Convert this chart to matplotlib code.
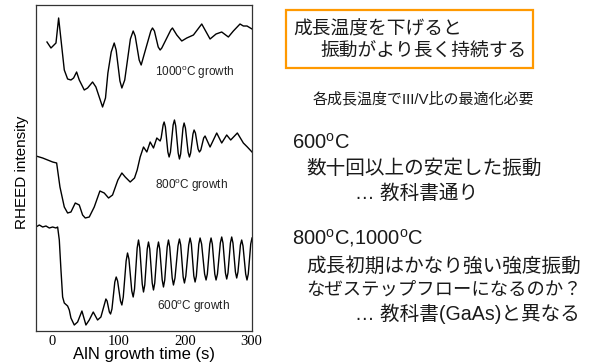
import matplotlib
matplotlib.use("Agg")
import matplotlib.pyplot as plt
from matplotlib.patches import Rectangle

plt.rcParams["font.family"] = ["Liberation Sans", "Noto Sans CJK JP"]
plt.rcParams["mathtext.fontset"] = "custom"
plt.rcParams["mathtext.rm"] = "Liberation Sans"
plt.rcParams["mathtext.it"] = "Liberation Sans:italic"
plt.rcParams["mathtext.bf"] = "Liberation Sans:bold"

# RHEED intensity traces (time in s, intensity in arbitrary units, offset per trace)
t_1000 = [-7.5, -1.5, 6, 10, 18.5, 23.5, 28.5, 32.5, 37, 41, 48.5, 53.5, 61, 66, 71, 76,
          80.4, 84, 89, 93.5, 96.4, 102.1, 105, 109.3, 117.8, 122, 125, 131, 134, 142.5,
          148.5, 151, 153.9, 159.6, 162.5, 165, 172.5, 178.5, 181, 187.5, 195, 202.5,
          212.5, 225, 237.5, 246.5, 255, 265, 272.5, 282.5, 287.5, 293, 300.5]
i_1000 = [289, 283, 288, 313, 261, 252, 251, 253, 259, 251, 241, 243, 249, 244, 234, 224,
          233, 258, 279, 288, 281, 250, 243, 251, 292, 300, 295, 271, 266, 286,
          300, 303, 300, 284, 281, 283, 293, 301, 303, 296, 290, 293,
          296, 307, 292, 297, 299, 294, 300, 307, 305, 305, 302]

t_800 = [-24, -14, -6.5, 1, 7, 12, 18.5, 23.5, 28.5, 35, 41, 46, 50, 56, 63.5, 72,
         78.5, 85, 91, 99, 105, 110, 117.5, 124, 128, 132.5, 137.5, 142.5, 147.5,
         152.5, 157.5, 162.5, 164, 167, 168.5, 170.4, 174.1, 176, 178, 182, 184,
         185.9, 189.6, 191.5, 193.3, 196.8, 198.5, 200.5, 204.5, 206.5, 208.3, 211.8,
         213.5, 215.5, 219.5, 221.5, 223.6, 227.9, 230, 237.5, 247.5, 255, 262.5,
         268.5, 278.5, 287.5, 293.5, 300.5]
i_800 = [175, 173, 171, 169, 168, 144, 124, 118, 119, 128, 126, 116, 113, 114, 124, 140,
         138, 133, 136, 151, 158, 154, 149, 153, 161, 174, 184, 179, 189,
         183, 193, 190, 193, 206, 209, 204, 179, 174, 179, 206, 211,
         205, 178, 172, 177, 203, 208, 203, 179, 174, 178, 197,
         201, 198, 182, 179, 181, 193, 195, 184, 198, 188, 196,
         191, 198, 188, 184, 179]

t_600 = [-24, -19, -14, -9, -4, 1, 6, 8.5, 11, 13.5, 16, 18.5, 23.5, 26, 28.5, 33.5,
         38.5, 45, 51, 56, 62, 68.5, 73.5, 81, 82.8, 86.2, 88, 90.1, 94.4, 96.5,
         98.6, 102.9, 105, 107.1, 111.4, 113.5, 115.6, 119.9, 122, 124, 128, 130,
         131.9, 135.6, 137.5, 139.4, 143.1, 145, 146.9, 150.6, 152.5, 154.4, 158.1,
         160, 161.9, 165.6, 167.5, 169.4, 173.1, 175, 176.9, 180.6, 182.5, 184.8,
         189.3, 191.5, 193.4, 197.1, 199, 201.1, 205.4, 207.5, 209.4, 213.1, 215,
         216.9, 220.6, 222.5, 224.8, 229.3, 231.5, 233.4, 237.1, 239, 240.9, 244.6,
         246.5, 248.6, 252.9, 255, 256.9, 260.6, 262.5, 264.4, 268.1, 270, 271.9,
         275.6, 277.5, 279.4, 283.1, 285, 287, 291, 293, 294.9, 298.6, 300.5]
i_600 = [104, 106, 104, 105, 103, 104, 103, 104, 91, 61, 34, 28, 25, 21, 13, 6,
         9, 20, 6, 11, 19, 11, 14, 32, 30, 19, 17, 22, 49, 54,
         50, 30, 26, 34, 70, 78, 72, 40, 34, 42, 83, 91,
         83, 47, 39, 46, 82, 89, 82, 48, 41, 48, 82,
         89, 82, 51, 44, 51, 84, 91, 84, 53, 46, 53,
         85, 92, 86, 54, 48, 55, 86, 93, 87, 55, 49,
         55, 87, 93, 87, 57, 51, 57, 87, 93, 87, 57,
         51, 57, 88, 94, 88, 58, 52, 58, 88, 94, 88,
         59, 53, 59, 86, 91, 85, 57, 51, 57, 87, 93]

traces = [(t_1000, i_1000, "1000$^{\\rm o}$C growth", 215, 258),
          (t_800, i_800, "800$^{\\rm o}$C growth", 210, 145),
          (t_600, i_600, "600$^{\\rm o}$C growth", 212, 24)]

x_ticks = [0, 100, 200, 300]

fig = plt.figure(figsize=(6.02, 3.64), dpi=100)
ax = fig.add_axes([36 / 602, 1 - 331 / 364, 216 / 602, 326 / 364])

for t, inten, label, lx, ly in traces:
    ax.plot(t, inten, color="black", lw=1.0, solid_joinstyle="round")
    ax.text(lx, ly, label, fontsize=8.5, ha="center", va="center", color="#222222")

ax.set_xlim(-24, 300.5)
ax.set_ylim(0, 326)
ax.set_yticks([])
ax.set_xticks(x_ticks)
ax.set_xticklabels([str(v) for v in x_ticks], fontfamily="Liberation Serif", fontsize=10.5)
ax.tick_params(axis="x", length=0, pad=3)
for sp in ax.spines.values():
    sp.set_color("#333333")
    sp.set_linewidth(0.9)
ax.set_xlabel("AlN growth time (s)", fontsize=12, labelpad=-1)
ax.set_ylabel("RHEED intensity", fontsize=11)
ax.yaxis.set_label_coords(-0.032, 0.486)


def ftext(x, y, s, size, **kw):
    # place text in figure pixel coordinates (origin top-left)
    fig.text(x / 602, 1 - y / 364, s, fontsize=size, va="center", ha="left",
             color="#1a1a1a", **kw)


# highlighted summary box
fig.patches.append(Rectangle((286 / 602, 1 - 68.3 / 364), 246.7 / 602, 58.3 / 364,
                             transform=fig.transFigure, fill=False,
                             edgecolor="#FF9900", lw=1.6))
ftext(293, 29.5, "成長温度を下げると", 13.5)
ftext(320, 52.5, "振動がより長く持続する", 13.5)

ftext(313, 99, "各成長温度でIII/V比の最適化必要", 10.8)

ftext(292.5, 142.5, "600$^{\\rm o}$C", 14.5)
ftext(306.5, 168, "数十回以上の安定した振動", 14.1)
ftext(355, 193, "… 教科書通り", 14.1)

ftext(292.5, 238, "800$^{\\rm o}$C,1000$^{\\rm o}$C", 14.5)
ftext(306.5, 266.5, "成長初期はかなり強い強度振動", 14.1)
ftext(306.5, 290, "なぜステップフローになるのか？", 13.2)
ftext(355, 313.5, "… 教科書(GaAs)と異なる", 14.1)

fig.savefig("out.png", dpi=100)
